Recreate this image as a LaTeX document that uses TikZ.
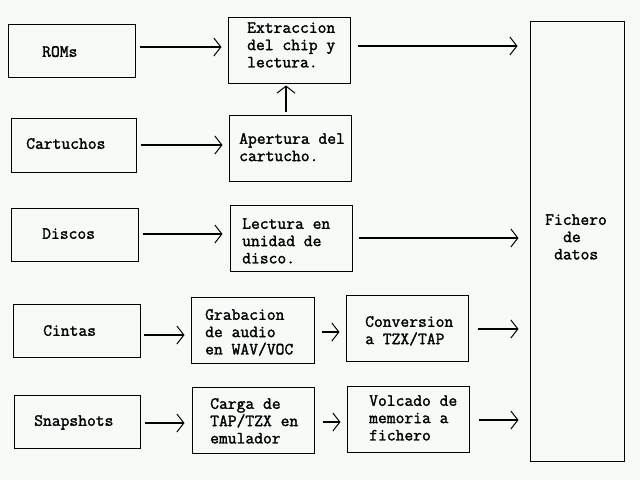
\documentclass[tikz,border=0pt]{standalone}
\usepackage{fontspec}
\newfontfamily\boldmono{Latin Modern Mono}[FakeBold=1.6]
\usetikzlibrary{arrows.meta}
\definecolor{bg}{RGB}{247,251,247}
\tikzset{
  box/.style={draw=black, line width=1pt, rectangle, inner sep=0pt},
  txt/.style={anchor=north west, inner sep=0pt, align=left,
    font=\boldmono\fontsize{17.1}{17.3}\selectfont},
  arr/.style={line width=1.6pt, -{Straight Barb[length=7pt,width=18pt,line width=1pt]}},
}
\begin{document}
\begin{tikzpicture}[x=1pt,y=-1pt]
\fill[bg] (0,0) rectangle (640,480);
\useasboundingbox (0,0) rectangle (640,480);
% boxes
\node[box, minimum width=127pt, minimum height=53pt] (roms)  at (71.5,50.5) {};
\node[box, minimum width=122pt, minimum height=66pt] (extr)  at (289,50) {};
\node[box, minimum width=125pt, minimum height=54pt] (cart)  at (73.5,145) {};
\node[box, minimum width=122pt, minimum height=66pt] (apert) at (290,148) {};
\node[box, minimum width=127pt, minimum height=53pt] (disc)  at (74.5,234.5) {};
\node[box, minimum width=122pt, minimum height=66pt] (lect)  at (291,238) {};
\node[box, minimum width=127pt, minimum height=53pt] (cint)  at (76.5,330.5) {};
\node[box, minimum width=123pt, minimum height=66pt] (grab)  at (252.5,330) {};
\node[box, minimum width=126pt, minimum height=53pt] (snap)  at (77,421.5) {};
\node[box, minimum width=122pt, minimum height=66pt] (carga) at (253,420) {};
\node[box, minimum width=122pt, minimum height=66pt] (conv)  at (407,328) {};
\node[box, minimum width=122pt, minimum height=66pt] (volc)  at (408,419) {};
\node[box, minimum width=94pt, minimum height=440pt] (fich)  at (577,241) {};
% texts
\node[txt] (roms-t)  at (42,44.5)  {\strut ROMs};
\node[txt] (cart-t)  at (26,136.5) {\strut Cartuchos};
\node[txt] (disc-t)  at (42,226.5) {\strut Discos};
\node[txt] (cint-t)  at (43,323.5) {\strut Cintas};
\node[txt] (snap-t)  at (34,413.5) {\strut Snapshots};
\node[txt] (extr-t)  at (247,20.5) {\strut Extraccion\\del chip y\\lectura.};
\node[txt] (apert-t) at (239,131.5) {\strut Apertura del\\cartucho.};
\node[txt] (lect-t)  at (242,216.5) {\strut Lectura en\\unidad de\\disco.};
\node[txt] (grab-t)  at (205,307.5) {\strut Grabacion\\de audio\\en WAV/VOC};
\node[txt] (carga-t) at (210,396.5) {\strut Carga de\\TAP/TZX en\\emulador};
\node[txt] (conv-t)  at (365,314.5) {\strut Conversion\\a TZX/TAP};
\node[txt] (volc-t)  at (369,393.5) {\strut Volcado de\\memoria a\\fichero};
\node[txt] (fich-t)  at (545,212.5) {\strut Fichero\\\hspace*{1.05em}de\\\hspace*{0.525em}datos};
% arrows
\draw[arr, shorten <=4pt, shorten >=6pt] (roms.east|-0,47) -- (extr.west|-0,47);
\draw[arr, shorten <=4pt, shorten >=6pt] (cart.east|-0,145) -- (apert.west|-0,145);
\draw[arr, shorten <=3pt, shorten >=2pt] (apert.north-|286,0) -- (extr.south-|286,0);
\draw[arr, shorten <=4pt, shorten >=7pt] (disc.east|-0,234) -- (lect.west|-0,234);
\draw[arr, shorten <=3pt, shorten >=6pt] (cint.east|-0,335) -- (grab.west|-0,335);
\draw[arr, shorten <=4pt, shorten >=7pt] (snap.east|-0,423) -- (carga.west|-0,423);
\draw[arr, shorten <=7pt, shorten >=6pt] (grab.east|-0,332) -- (conv.west|-0,332);
\draw[arr, shorten <=8pt, shorten >=6pt] (carga.east|-0,422) -- (volc.west|-0,422);
\draw[arr, shorten <=7pt, shorten >=12pt] (extr.east|-0,46) -- (fich.west|-0,46);
\draw[arr, shorten <=6pt, shorten >=11pt] (lect.east|-0,238) -- (fich.west|-0,238);
\draw[arr, shorten <=9pt, shorten >=11pt] (conv.east|-0,329) -- (fich.west|-0,329);
\draw[arr, shorten <=9pt, shorten >=11pt] (volc.east|-0,420) -- (fich.west|-0,420);
\end{tikzpicture}
\end{document}
